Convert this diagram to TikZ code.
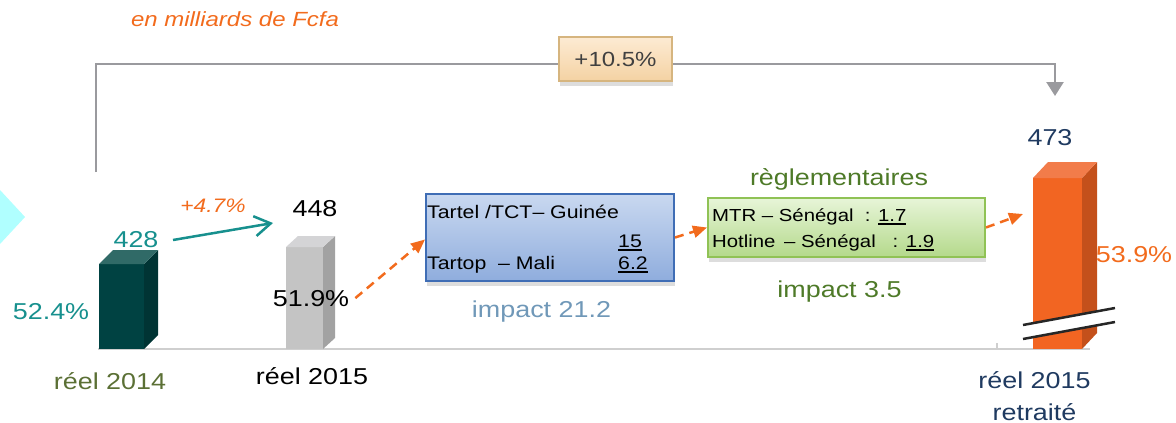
\documentclass[tikz,border=0pt]{standalone}
\usepackage{fontspec}
\setmainfont{Liberation Sans}[FakeStretch=1.17]
\usetikzlibrary{shadows,arrows.meta,calc}

\definecolor{tealT}{HTML}{17908E}
\definecolor{orangeT}{HTML}{F26B1D}
\definecolor{oliveT}{HTML}{5B7035}
\definecolor{navyT}{HTML}{1F3A60}
\definecolor{steelT}{HTML}{7098B8}
\definecolor{greenT}{HTML}{4E7A28}
\definecolor{bracketC}{HTML}{9A9A9E}
\definecolor{axisC}{HTML}{CFCFCF}
\definecolor{growthEdge}{HTML}{D6B57F}
\definecolor{growthTop}{HTML}{FDEBD3}
\definecolor{growthBot}{HTML}{F4D2A3}
\definecolor{blueEdge}{HTML}{3F6DB5}
\definecolor{blueTop}{HTML}{C9D8F0}
\definecolor{blueBot}{HTML}{8FADDD}
\definecolor{greenEdge}{HTML}{90C255}
\definecolor{greenTop}{HTML}{E7F5D8}
\definecolor{greenBot}{HTML}{B4D98B}
\definecolor{barAfront}{HTML}{004242}
\definecolor{barAside}{HTML}{003434}
\definecolor{barAtop}{HTML}{306A67}
\definecolor{barBfront}{HTML}{C4C4C4}
\definecolor{barBside}{HTML}{A2A2A2}
\definecolor{barBtop}{HTML}{D4D4D6}
\definecolor{barCfront}{HTML}{F26522}
\definecolor{barCside}{HTML}{C4501B}
\definecolor{barCtop}{HTML}{F27C4A}
\definecolor{markC}{HTML}{B0FFFF}

\newcommand\fsz[1]{\fontsize{#1pt}{#1pt}\selectfont}
\newsavebox\ulbox
\newcommand\uln[1]{\sbox\ulbox{#1}\rlap{\rule[-3.5pt]{\wd\ulbox}{1.6pt}}\usebox\ulbox}

% cuboid bar: x1, x2, ytop, ybottom, depth dx, depth dy, front, side, top colours
\newcommand\cuboid[9]{%
  \fill[#7] (#1,#4) rectangle (#2,#3);
  \fill[#8] (#2,#4) -- (#2+#5,#4-#6) -- (#2+#5,#3-#6) -- (#2,#3) -- cycle;
  \fill[#9] (#1,#3) -- (#1+#5,#3-#6) -- (#2+#5,#3-#6) -- (#2,#3) -- cycle;
}

\begin{document}
\begin{tikzpicture}[x=1pt,y=-1pt,
  lbl/.style={inner sep=0pt, anchor=base},
  bigtxt/.style={lbl, font=\fsz{23}},
  boxtxt/.style={inner sep=0pt, anchor=base west, font=\fsz{18.2}},
  dasharrow/.style={orangeT, line width=2.5pt, dash pattern=on 9pt off 6pt,
    -{Triangle[length=14pt,width=12pt]}},
  softshadow/.style={drop shadow={shadow xshift=1pt, shadow yshift=-5pt, opacity=0.22, fill=black!60}}
]
\useasboundingbox (0,0) rectangle (1176,423);

% decorative marker at the left edge
\fill[markC] (0,190) -- (25,217) -- (0,244) -- cycle;

% unit caption
\node[lbl, font=\fsz{20.5}\itshape, text=orangeT] (unit) at (235,27) {en milliards de Fcfa};

% overall growth bracket
\coordinate (brA) at (96,172);
\coordinate (brTop) at (1055,64);
\coordinate (brB) at (1055,96);
\draw[bracketC, line width=2.5pt, -{Triangle[length=14pt,width=17pt]}] (brA) |- (brTop) -- (brB);
\node[draw=growthEdge, line width=1.5pt, top color=growthTop, bottom color=growthBot,
      minimum width=113pt, minimum height=44pt, inner sep=0pt, softshadow,
      font=\fsz{20.5}, text=black!75] (growth) at (615.5,59) {+10.5\%};

% axis
\draw[axisC, line width=2.5pt] (98,349) -- (1090,349);
\draw[axisC, line width=1.5pt] (997,343) -- (997,349);

% bars
\cuboid{99}{144}{264}{349}{14}{14}{barAfront}{barAside}{barAtop}
\cuboid{286}{323}{247}{349}{12}{11}{barBfront}{barBside}{barBtop}
\cuboid{1033}{1082}{178}{349}{15}{16}{barCfront}{barCside}{barCtop}

% axis break on the last bar
\fill[white] (1023,325) -- (1115,308) -- (1115,322) -- (1023,339) -- cycle;
\draw[black!85, line width=2.5pt] (1023,325) -- (1115,308);
\draw[black!85, line width=2.5pt] (1023,339) -- (1115,322);

% values and labels
\node[bigtxt, text=tealT] (v2014) at (136,247) {428};
\node[bigtxt, text=tealT] (p2014) at (51,319) {52.4\%};
\node[lbl, font=\fsz{19.5}\itshape, text=orangeT] (g2015) at (213,212) {+4.7\%};
\node[bigtxt] (v2015) at (315,216) {448};
\node[bigtxt] (p2015) at (311,306) {51.9\%};
\node[bigtxt, text=oliveT] (c2014) at (110,389) {réel 2014};
\node[bigtxt] (c2015) at (312,384) {réel 2015};
\node[bigtxt, text=navyT] (vret) at (1050,145) {473};
\node[bigtxt, text=orangeT] (pret) at (1134,262) {53.9\%};
\node[inner sep=0pt, anchor=base, align=center, font=\fontsize{23pt}{32pt}\selectfont, text=navyT]
  (cret) at (1034.5,420) {réel 2015\\retraité};

% growth arrow 2014 -> 2015
\coordinate (tealA) at (173,240);
\coordinate (tealB) at (273,223);
\draw[tealT, line width=2.5pt, -{Straight Barb[length=16pt,width=20pt]}] (tealA) -- (tealB);

% first adjustment box
\node[draw=blueEdge, line width=2pt, top color=blueTop, bottom color=blueBot,
      minimum width=248pt, minimum height=87pt, inner sep=0pt, softshadow] (tartel) at (550,237.5) {};
\node[boxtxt] (t1) at (427,218) {Tartel /TCT– Guinée};
\node[boxtxt] (t1v) at (618,247) {\uln{15}};
\node[boxtxt] (t2) at (427,269) {Tartop \ – Mali};
\node[boxtxt] (t2v) at (618,269) {\uln{6.2}};
\node[lbl, font=\fsz{23}, text=steelT] (imp1) at (541.5,317) {impact 21.2};

% regulatory adjustment box
\node[lbl, font=\fsz{23}, text=greenT] (regl) at (839,185) {règlementaires};
\node[draw=greenEdge, line width=2pt, top color=greenTop, bottom color=greenBot,
      minimum width=277pt, minimum height=59pt, inner sep=0pt, softshadow] (regbox) at (846.5,227.5) {};
\node[boxtxt, font=\fsz{17.4}] (r1) at (712,221) {MTR – Sénégal \ : \uln{1.7}};
\node[boxtxt, font=\fsz{17.4}] (r2) at (712,247) {Hotline \,– Sénégal \ \ : \uln{1.9}};
\node[lbl, font=\fsz{23}, text=greenT] (imp2) at (839.5,297) {impact 3.5};

% flow of adjustments
\coordinate (retIn) at (1023,214);
\draw[dasharrow] ($(p2015.east)+(6,0)$) -- ($(tartel.west)+(0,2)$);
\draw[dasharrow] (tartel.east) -- (regbox.west);
\draw[dasharrow] (regbox.east) -- (retIn);
\end{tikzpicture}
\end{document}
